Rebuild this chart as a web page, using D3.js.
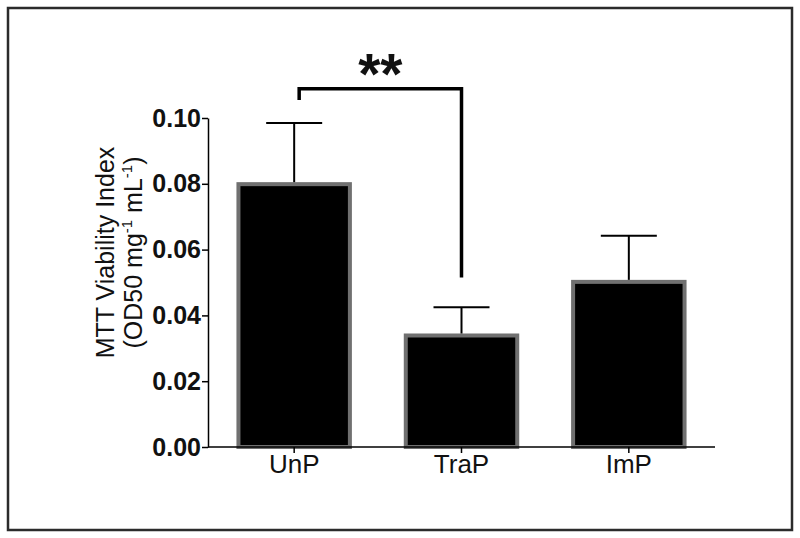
<!DOCTYPE html>
<html>
<head>
<meta charset="utf-8">
<script src="https://cdn.jsdelivr.net/npm/d3@7"></script>
<style>
  body { margin: 0; background: #fff; }
  svg text { font-family: "Liberation Sans", Arial, sans-serif; }
</style>
</head>
<body>
<div id="chart"></div>
<script>
// groups and values
const groups = ["UnP", "TraP", "ImP"];
const means = [0.0805, 0.0345, 0.0508];
const errTops = [0.0985, 0.0425, 0.0642];
const yTicks = [0, 0.02, 0.04, 0.06, 0.08, 0.10];
const sigPair = ["UnP", "TraP"];
const sigLabel = "**";

const W = 800, H = 538;
const margin = {top: 118, right: 85, bottom: 91, left: 208};
const width = W - margin.left - margin.right,
      height = H - margin.top - margin.bottom;

const svg = d3.select("#chart").append("svg")
  .attr("width", W).attr("height", H);

// outer frame
svg.append("rect")
  .attr("x", 8).attr("y", 8)
  .attr("width", 784).attr("height", 522)
  .attr("fill", "none")
  .attr("stroke", "#2b2b2b")
  .attr("stroke-width", 2.5);

const g = svg.append("g")
  .attr("transform", `translate(${margin.left},${margin.top})`);

const x = d3.scaleBand()
  .domain(groups)
  .range([0, width])
  .paddingInner(0.31)
  .paddingOuter(0.17);

const y = d3.scaleLinear()
  .domain([0, 0.10])
  .range([height, 0]);

// bars with grey edge
g.selectAll(".bar")
  .data(groups)
  .enter()
  .append("rect")
    .attr("class", "bar")
    .attr("x", d => x(d) + 2)
    .attr("width", x.bandwidth() - 4)
    .attr("y", (d, i) => y(means[i]) + 2)
    .attr("height", (d, i) => height - y(means[i]) - 2)
    .attr("fill", "#000")
    .attr("stroke", "#707070")
    .attr("stroke-width", 4);

// error bars (upper only)
const capHalf = 28;
groups.forEach((d, i) => {
  const cx = x(d) + x.bandwidth() / 2;
  g.append("line")
    .attr("x1", cx).attr("x2", cx)
    .attr("y1", y(means[i])).attr("y2", y(errTops[i]))
    .attr("stroke", "#000").attr("stroke-width", 2);
  g.append("line")
    .attr("x1", cx - capHalf).attr("x2", cx + capHalf)
    .attr("y1", y(errTops[i])).attr("y2", y(errTops[i]))
    .attr("stroke", "#000").attr("stroke-width", 2);
});

// axes
const yAxis = g.append("g")
  .call(d3.axisLeft(y).tickValues(yTicks).tickSize(6).tickSizeOuter(0)
    .tickFormat(d3.format(".2f")));
yAxis.select(".domain").attr("stroke", "#000").attr("stroke-width", 1.5);
yAxis.selectAll(".tick line").attr("stroke", "#000").attr("stroke-width", 1.5);
yAxis.selectAll(".tick text")
  .attr("x", -7)
  .attr("font-size", 25).attr("font-weight", "bold")
  .attr("font-family", "Liberation Sans, Arial, sans-serif")
  .attr("fill", "#111");

const xAxis = g.append("g")
  .attr("transform", `translate(0,${height})`)
  .call(d3.axisBottom(x).tickSize(6).tickSizeOuter(0));
xAxis.select(".domain").attr("stroke", "#000").attr("stroke-width", 1.5)
  .attr("d", `M0,0H${width}`);
xAxis.selectAll(".tick line").attr("stroke", "#000").attr("stroke-width", 1.5);
xAxis.selectAll(".tick text")
  .attr("y", 8)
  .attr("font-size", 26)
  .attr("font-family", "Liberation Sans, Arial, sans-serif")
  .attr("fill", "#111");

// y label
const yl = g.append("text")
  .attr("transform", `translate(-94,${height / 2 - 30}) rotate(-90)`)
  .attr("text-anchor", "middle")
  .attr("font-size", 25)
  .attr("fill", "#111");
yl.append("tspan").attr("x", 0).attr("dy", 0).text("MTT Viability Index");
const l2 = yl.append("tspan").attr("x", 0).attr("dy", 28);
l2.append("tspan").text("(OD50 mg");
l2.append("tspan").attr("dy", -10).attr("font-size", 15).text("-1");
l2.append("tspan").attr("dy", 10).text(" mL");
l2.append("tspan").attr("dy", -10).attr("font-size", 15).text("-1");
l2.append("tspan").attr("dy", 10).text(")");

// significance bracket
const bx1 = x(sigPair[0]) + x.bandwidth() / 2 + 5;
const bx2 = x(sigPair[1]) + x.bandwidth() / 2;
const bTop = y(0.1089);
g.append("path")
  .attr("d", `M${bx1},${y(0.1055)}V${bTop}H${bx2}V${y(0.0515)}`)
  .attr("fill", "none")
  .attr("stroke", "#000")
  .attr("stroke-width", 3.5);
g.append("text")
  .attr("x", (bx1 + bx2) / 2)
  .attr("y", bTop + 5)
  .attr("text-anchor", "middle")
  .attr("font-size", 57)
  .attr("font-weight", "bold")
  .attr("fill", "#111")
  .text(sigLabel);
</script>
</body>
</html>
